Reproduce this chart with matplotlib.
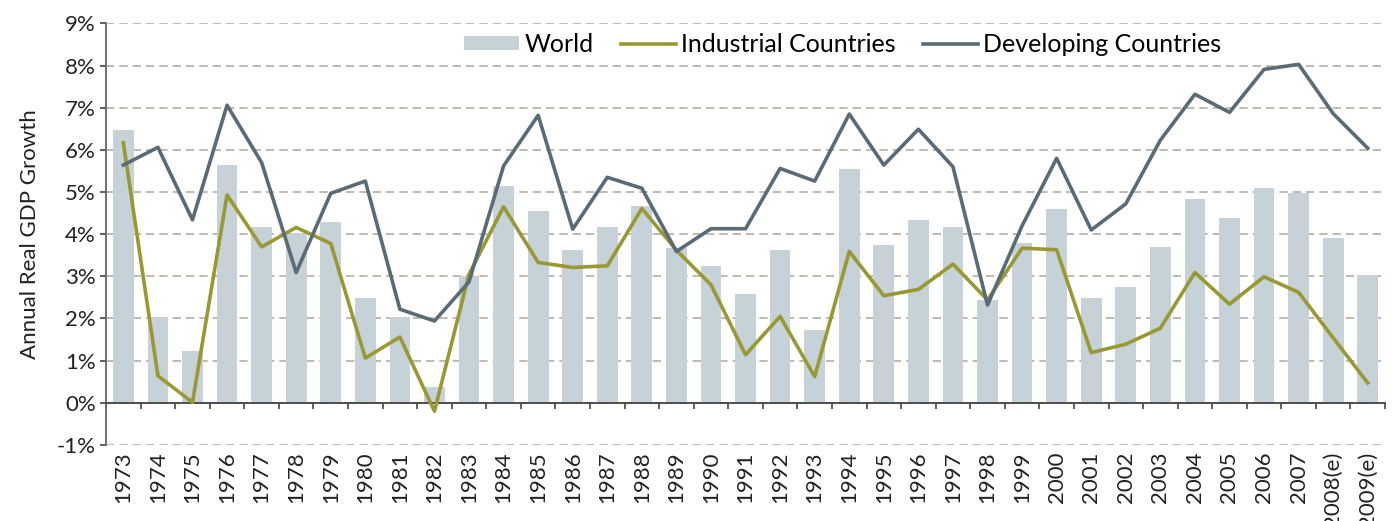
import numpy as np
import matplotlib.pyplot as plt
from matplotlib.ticker import FixedLocator, FuncFormatter

plt.rcParams['font.family'] = ['Lato', 'DejaVu Sans']

years = ['1973', '1974', '1975', '1976', '1977', '1978', '1979', '1980', '1981', '1982',
         '1983', '1984', '1985', '1986', '1987', '1988', '1989', '1990', '1991', '1992',
         '1993', '1994', '1995', '1996', '1997', '1998', '1999', '2000', '2001', '2002',
         '2003', '2004', '2005', '2006', '2007', '2008(e)', '2009(e)']

world = [6.47, 2.04, 1.23, 5.64, 4.17, 4.03, 4.29, 2.49, 2.04, 0.38,
         3.00, 5.14, 4.55, 3.63, 4.17, 4.67, 3.67, 3.25, 2.58, 3.63,
         1.73, 5.55, 3.74, 4.34, 4.17, 2.44, 3.79, 4.60, 2.49, 2.75,
         3.70, 4.83, 4.38, 5.09, 4.98, 3.91, 3.03]

industrial = [6.17, 0.64, 0.01, 4.93, 3.70, 4.16, 3.78, 1.06, 1.56, -0.20,
              3.05, 4.65, 3.33, 3.21, 3.25, 4.61, 3.62, 2.80, 1.14, 2.05,
              0.62, 3.59, 2.54, 2.69, 3.29, 2.44, 3.67, 3.63, 1.19, 1.39,
              1.77, 3.09, 2.34, 2.99, 2.62, 1.54, 0.47]

developing = [5.64, 6.06, 4.34, 7.06, 5.70, 3.09, 4.97, 5.26, 2.22, 1.94,
              2.87, 5.62, 6.82, 4.12, 5.35, 5.09, 3.59, 4.13, 4.13, 5.56,
              5.26, 6.85, 5.64, 6.49, 5.60, 2.32, 4.20, 5.80, 4.10, 4.72,
              6.23, 7.32, 6.89, 7.91, 8.03, 6.86, 6.04]

x = np.arange(len(years))

fig = plt.figure(figsize=(13.92, 5.21), dpi=100)
ax = fig.add_axes([0.0762, 0.146, 0.9188, 0.809])

bars = ax.bar(x, world, width=0.6, color='#c6d1d8', label='World', zorder=2)
l1, = ax.plot(x, industrial, color='#999933', lw=2.6, label='Industrial Countries', zorder=3)
l2, = ax.plot(x, developing, color='#5a6b76', lw=2.6, label='Developing Countries', zorder=3)

ax.set_xlim(-0.5, len(years) - 0.5)
ax.set_ylim(-1, 9)
ax.set_yticks(np.arange(-1, 10, 1))
ax.yaxis.set_major_formatter(FuncFormatter(lambda v, p: f'{v:.0f}%'))
ax.yaxis.grid(True, ls=(0, (5, 3)), color='#b3b0a3', lw=1.2, zorder=0)
ax.set_axisbelow(True)

for s in ['top', 'right']:
    ax.spines[s].set_visible(False)
ax.spines['left'].set_color('#666666')
ax.spines['left'].set_linewidth(1.3)
ax.spines['bottom'].set_position(('data', 0))
ax.spines['bottom'].set_color('#444444')
ax.spines['bottom'].set_linewidth(1.3)

ax.set_xticks(x)
ax.set_xticklabels(years, rotation=90)
ax.xaxis.set_minor_locator(FixedLocator(np.arange(-0.5, len(years), 1)))
ax.tick_params(axis='x', which='major', length=0, pad=35, labelsize=16, colors='#222222')
ax.tick_params(axis='x', which='minor', length=4, width=1.2, color='#444444', direction='out')
ax.tick_params(axis='y', length=4, width=1.2, color='#444444', labelsize=16, labelcolor='#222222')

ax.set_ylabel('Annual Real GDP Growth', fontsize=16, color='#222222', labelpad=12)

ax.legend([bars, l1, l2], ['World', 'Industrial Countries', 'Developing Countries'],
          loc='center', bbox_to_anchor=(0.576, 0.951), ncol=3, frameon=False,
          fontsize=18, handlelength=2.2, handleheight=0.5, handletextpad=0.2,
          columnspacing=1.1)

fig.savefig('out.png', dpi=100)
